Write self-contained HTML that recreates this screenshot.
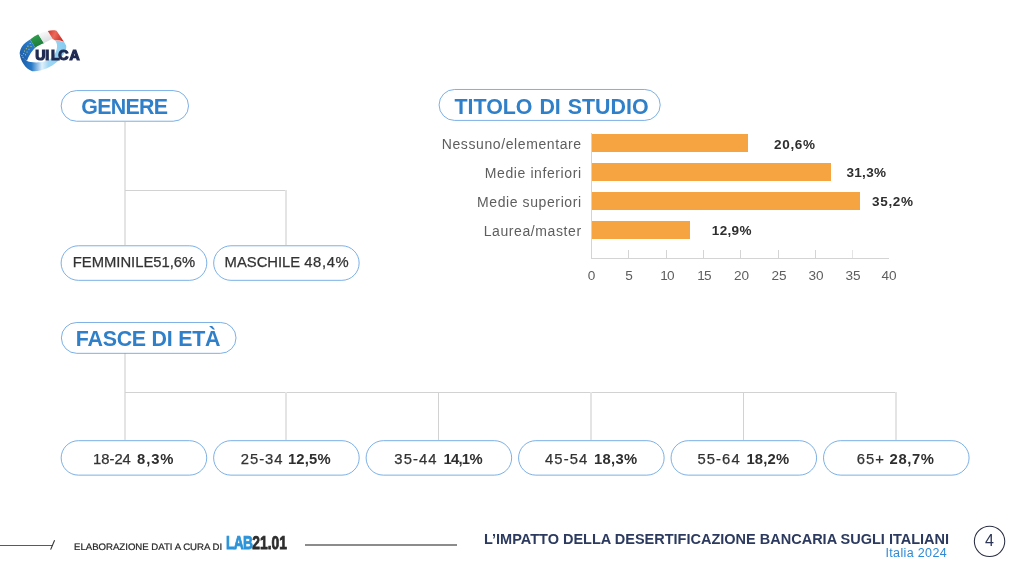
<!DOCTYPE html>
<html lang="it">
<head>
<meta charset="utf-8">
<title>L'impatto della desertificazione bancaria sugli italiani</title>
<style>
html,body{margin:0;padding:0;background:#fff;}
body{width:1024px;height:576px;position:relative;overflow:hidden;font-family:"Liberation Sans",sans-serif;color:#333;}
.abs{position:absolute;}
.pill{position:absolute;box-sizing:border-box;border:1px solid transparent;border-radius:20px;background:transparent;z-index:2;display:flex;align-items:center;justify-content:center;white-space:nowrap;}
.head{color:#2f80c9;font-weight:bold;font-size:21.4px;padding-top:1px;}
.hs{display:inline-block;transform:translateY(0.8px) scaleY(1.04);}
.val{font-size:14.8px;color:#333;-webkit-text-stroke:0.25px #333;}
.at{position:absolute;z-index:2;top:449.6px;font-size:14.8px;line-height:18px;color:#333;-webkit-text-stroke:0.25px #333;white-space:nowrap;}
.ab{font-weight:bold;color:#2e2e2e;-webkit-text-stroke:0;}
.ln{position:absolute;background:#d2d2d2;}
.l2{position:absolute;background:#e4e4e4;width:2px;}
.lab{position:absolute;right:442.3px;font-size:14px;letter-spacing:0.6px;color:#5e5e5e;white-space:nowrap;text-align:right;line-height:18px;}
.bar{position:absolute;left:591px;background:#f6a441;height:18px;}
.bv{position:absolute;font-weight:bold;font-size:13.5px;letter-spacing:0.7px;color:#2e2e2e;line-height:18px;white-space:nowrap;}
.tk{position:absolute;width:1px;height:8px;top:250px;background:#d4d4d4;}
.tl{position:absolute;top:268px;width:30px;margin-left:-15px;text-align:center;font-size:13.6px;color:#5e5e5e;line-height:16px;}
</style>
</head>
<body>

<!-- logo -->
<svg class="abs" style="left:14px;top:26px" width="72" height="50" viewBox="0 0 829 576">
  <defs>
    <linearGradient id="lg1" x1="0" y1="0" x2="1" y2="0">
      <stop offset="0" stop-color="#1a58a4"/><stop offset="0.25" stop-color="#2579c8"/>
      <stop offset="0.48" stop-color="#dff0fb"/><stop offset="0.62" stop-color="#9fd6f4"/><stop offset="1" stop-color="#86cbf0"/>
    </linearGradient>
    <linearGradient id="lg2" x1="0" y1="1" x2="1" y2="0">
      <stop offset="0" stop-color="#1b5aa6"/><stop offset="1" stop-color="#2e86d6"/>
    </linearGradient>
    <linearGradient id="lg3" x1="0" y1="0" x2="0.4" y2="1">
      <stop offset="0" stop-color="#35a653"/><stop offset="1" stop-color="#1d7a3b"/>
    </linearGradient>
    <linearGradient id="lg4" x1="0" y1="0" x2="0.4" y2="1">
      <stop offset="0" stop-color="#ffffff"/><stop offset="1" stop-color="#d9dde0"/>
    </linearGradient>
    <linearGradient id="lg5" x1="0" y1="0" x2="1" y2="0.3">
      <stop offset="0" stop-color="#d6332a"/><stop offset="0.5" stop-color="#ea6a5c"/><stop offset="1" stop-color="#cf2f27"/>
    </linearGradient>
  </defs>
  <path d="M65 310 C70 400 130 490 210 520 C300 532 420 482 500 410 C570 340 612 272 600 225 L575 180 L470 165 C505 200 505 262 470 322 C440 380 380 408 300 418 C230 424 170 414 145 400 C120 380 90 350 65 310 Z" fill="url(#lg1)"/>
  <path d="M65 310 C70 280 78 255 92 235 C118 200 150 175 185 155 L245 250 C215 275 170 340 150 400 C120 385 85 350 65 310 Z" fill="url(#lg2)"/>
  <g fill="#f2de35">
    <circle cx="92" cy="340" r="6"/><circle cx="112" cy="318" r="6"/><circle cx="120" cy="288" r="6"/><circle cx="142" cy="262" r="6"/>
    <circle cx="160" cy="232" r="6"/><circle cx="186" cy="202" r="6"/><circle cx="104" cy="360" r="6"/><circle cx="132" cy="330" r="6"/>
    <circle cx="150" cy="300" r="6"/><circle cx="172" cy="268" r="6"/><circle cx="196" cy="236" r="6"/>
  </g>
  <path d="M185 155 C215 130 248 110 280 95 L345 200 C310 212 275 230 245 250 Z" fill="url(#lg3)"/>
  <path d="M280 95 C315 78 352 65 390 57 L445 150 C410 162 375 180 345 200 Z" fill="url(#lg4)"/>
  <path d="M390 57 C425 48 460 46 490 55 L575 180 C540 168 505 162 470 165 L445 150 Z" fill="url(#lg5)"/>
  <text x="244 359 425 510 638" y="389" font-family="Liberation Sans, sans-serif" font-weight="bold" font-size="162" fill="#1f2a52" stroke="#1f2a52" stroke-width="14">UILCA</text>
</svg>

<!-- pill outlines -->
<svg class="abs" style="left:0;top:0;z-index:1" width="1024" height="576" viewBox="0 0 1024 576">
<g fill="#fff" stroke="#5096dc" stroke-width="0.75">
<rect x="61.17" y="90.58" width="127.35" height="30.65" rx="15.32"/>
<rect x="439.07" y="89.47" width="221.15" height="30.95" rx="15.48"/>
<rect x="61.38" y="322.48" width="174.65" height="30.85" rx="15.42"/>
<rect x="61.12" y="245.78" width="145.70" height="34.55" rx="17.27"/>
<rect x="213.68" y="245.78" width="145.45" height="34.55" rx="17.27"/>
<rect x="61.17" y="440.68" width="145.55" height="34.45" rx="17.22"/>
<rect x="213.64" y="440.68" width="145.55" height="34.45" rx="17.22"/>
<rect x="366.12" y="440.68" width="145.55" height="34.45" rx="17.22"/>
<rect x="518.58" y="440.68" width="145.55" height="34.45" rx="17.22"/>
<rect x="671.05" y="440.68" width="145.55" height="34.45" rx="17.22"/>
<rect x="823.52" y="440.68" width="145.55" height="34.45" rx="17.22"/>
</g>
</svg>

<!-- GENERE -->
<div class="l2" style="left:124px;top:122px;height:123px"></div>
<div class="ln" style="left:125px;top:190px;width:162px;height:1px"></div>
<div class="l2" style="left:285px;top:190px;height:55px"></div>
<div class="pill head" style="left:61px;top:90px;width:128px;height:32px;letter-spacing:-0.75px;padding-right:1.5px"><span class="hs">GENERE</span></div>
<div class="pill val" style="left:61px;top:245px;width:146px;height:36px;padding-bottom:1.2px">FEMMINILE51,6%</div>
<div class="pill val" style="left:213px;top:245px;width:146px;height:36px;padding-left:2px;padding-bottom:1.2px">MASCHILE <span style="letter-spacing:0.65px;margin-left:4px">48,4%</span></div>

<!-- TITOLO DI STUDIO -->
<div class="pill head" style="left:439px;top:89px;width:222px;height:32px;word-spacing:1px;padding-top:3px;padding-left:3px"><span class="hs">TITOLO DI STUDIO</span></div>

<div class="lab" style="top:134.6px">Nessuno/elementare</div>
<div class="lab" style="top:164.3px">Medie inferiori</div>
<div class="lab" style="top:192.5px">Medie superiori</div>
<div class="lab" style="top:221.6px">Laurea/master</div>

<div class="bar" style="top:134px;width:157px"></div>
<div class="bar" style="top:163px;width:240px"></div>
<div class="bar" style="top:192px;width:269px"></div>
<div class="bar" style="top:221px;width:99px"></div>

<div class="bv" style="left:774px;top:136px">20,6%</div>
<div class="bv" style="left:846.5px;top:164px;letter-spacing:0.3px">31,3%</div>
<div class="bv" style="left:872px;top:193px">35,2%</div>
<div class="bv" style="left:711.8px;top:222px;letter-spacing:0.35px">12,9%</div>

<div class="ln" style="left:591px;top:133px;width:1px;height:126px;background:#d4d4d4"></div>
<div class="ln" style="left:591px;top:258px;width:298px;height:1px;background:#d4d4d4"></div>
<div class="tk" style="left:628px"></div><div class="tk" style="left:666px"></div><div class="tk" style="left:703px"></div>
<div class="tk" style="left:740px"></div><div class="tk" style="left:778px"></div><div class="tk" style="left:815px"></div>
<div class="tk" style="left:852px;background:#e4e4e4"></div>
<div class="tl" style="left:591.5px">0</div><div class="tl" style="left:629px">5</div><div class="tl" style="left:667px;letter-spacing:-0.9px">10</div>
<div class="tl" style="left:704px;letter-spacing:-0.7px">15</div><div class="tl" style="left:741.5px">20</div><div class="tl" style="left:779px">25</div>
<div class="tl" style="left:816px">30</div><div class="tl" style="left:853px">35</div><div class="tl" style="left:889px">40</div>

<!-- FASCE DI ETA -->
<div class="l2" style="left:124px;top:353px;height:87px"></div>
<div class="ln" style="left:125px;top:392px;width:772px;height:1px"></div>
<div class="l2" style="left:285px;top:392px;height:48px"></div>
<div class="ln" style="left:438px;top:392px;width:1px;height:48px"></div>
<div class="l2" style="left:590px;top:392px;height:48px"></div>
<div class="ln" style="left:743px;top:392px;width:1px;height:48px"></div>
<div class="l2" style="left:895px;top:392px;height:48px"></div>
<div class="pill head" style="left:61px;top:322px;width:176px;height:32px;letter-spacing:-0.25px;padding-right:2px"><span class="hs">FASCE DI ETÀ</span></div>
<span class="at" style="left:93.0px;letter-spacing:0px">18-24</span><span class="at ab" style="left:137.0px;letter-spacing:0.9px">8,3%</span>
<span class="at" style="left:240.7px;letter-spacing:1.0px">25-34</span><span class="at ab" style="left:287.9px;letter-spacing:0.2px">12,5%</span>
<span class="at" style="left:394.3px;letter-spacing:1.1px">35-44</span><span class="at ab" style="left:443.4px;letter-spacing:-0.7px">14,1%</span>
<span class="at" style="left:545.0px;letter-spacing:1.1px">45-54</span><span class="at ab" style="left:594.0px;letter-spacing:0.3px">18,3%</span>
<span class="at" style="left:697.4px;letter-spacing:1.1px">55-64</span><span class="at ab" style="left:746.4px;letter-spacing:0.2px">18,2%</span>
<span class="at" style="left:856.8px;letter-spacing:1.0px">65+</span><span class="at ab" style="left:889.6px;letter-spacing:0.6px">28,7%</span>

<!-- footer -->
<svg class="abs" style="left:0;top:536px" width="60" height="18" viewBox="0 0 60 18">
  <line x1="0" y1="9.5" x2="52.5" y2="9.5" stroke="#5a5a5a" stroke-width="1.1"/>
  <line x1="50.6" y1="13.6" x2="54.6" y2="4.2" stroke="#333" stroke-width="1.1"/>
</svg>
<div class="abs" style="left:73.5px;top:541.9px;text-rendering:geometricPrecision;font-size:20px;color:#2a2a2a;-webkit-text-stroke:0.5px #2a2a2a;line-height:24px;white-space:nowrap;transform-origin:0 0;transform:scale(0.480,0.47)">ELABORAZIONE DATI A CURA DI</div>
<div class="abs" style="left:226.3px;top:531.7px;text-rendering:geometricPrecision;font-size:18.5px;font-weight:bold;line-height:22px;white-space:nowrap;transform-origin:0 0;transform:scaleX(0.745);color:#2d2d2d;-webkit-text-stroke:0.8px #2d2d2d"><span style="color:#2b93d9;-webkit-text-stroke:0.8px #2b93d9;letter-spacing:-0.9px">LAB</span>21.01</div>
<div class="abs" style="left:305px;top:544px;width:152px;height:2px;background:#8c8c8c"></div>
<div class="abs" style="left:484px;top:531px;font-size:14.5px;font-weight:bold;color:#2b3a5e;line-height:16px;white-space:nowrap">L’IMPATTO DELLA DESERTIFICAZIONE BANCARIA SUGLI ITALIANI</div>
<div class="abs" style="right:77px;top:546px;font-size:12.5px;letter-spacing:0.35px;color:#2e8ad6;line-height:14px;white-space:nowrap">Italia 2024</div>
<svg class="abs" style="left:968px;top:520px" width="44" height="44" viewBox="0 0 44 44"><circle cx="21.55" cy="21.35" r="15.2" fill="none" stroke="#2a2f45" stroke-width="1.05"/></svg>
<div class="abs" style="left:975px;top:532px;width:29px;text-align:center;font-size:16px;line-height:18px;color:#2b3556">4</div>

</body>
</html>
